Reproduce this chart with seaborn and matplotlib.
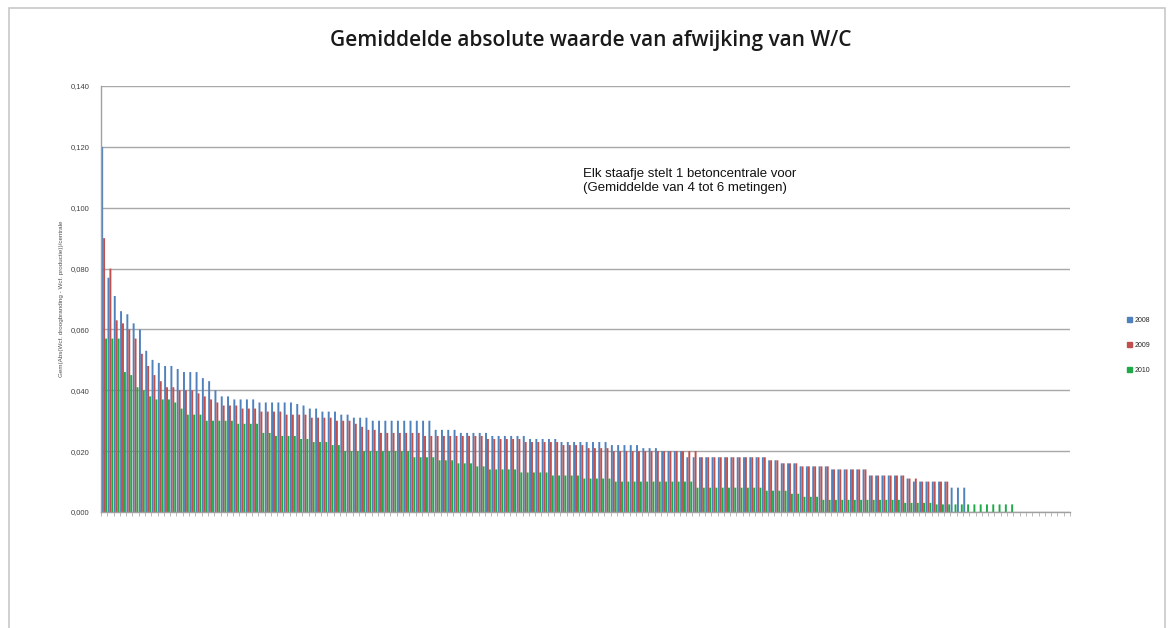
import matplotlib
matplotlib.use("Agg")
import matplotlib.pyplot as plt
import matplotlib.patches as patches
from matplotlib.ticker import FuncFormatter
import seaborn as sns
import numpy as np
import pandas as pd

# values per betoncentrale, sorted high -> low for each year
n_categories = 154
years = ["2008", "2009", "2010"]

wcf_2008 = [0.120, 0.077, 0.071, 0.066, 0.065, 0.062, 0.060, 0.053, 0.050, 0.049,
            0.048, 0.048, 0.047, 0.046, 0.046, 0.046, 0.044, 0.043, 0.040, 0.038,
            0.038, 0.037, 0.037, 0.037, 0.037, 0.036, 0.036, 0.036, 0.036, 0.036,
            0.036,
            0.0355, 0.035, 0.034, 0.034, 0.033, 0.033, 0.033, 0.032, 0.032, 0.031,
            0.031, 0.031, 0.030, 0.030, 0.030, 0.030, 0.030, 0.030, 0.030, 0.030,
            0.030, 0.030, 0.027, 0.027, 0.027,
            0.027, 0.026, 0.026, 0.026, 0.026, 0.026, 0.025, 0.025, 0.025, 0.025,
            0.025, 0.025, 0.024, 0.024, 0.024, 0.024, 0.024, 0.023, 0.023, 0.023,
            0.023, 0.023, 0.023, 0.023, 0.023,
            0.022, 0.022, 0.022, 0.022, 0.022,
            0.021, 0.021, 0.021, 0.020, 0.020, 0.020, 0.020,
            0.018, 0.018, 0.018, 0.018, 0.018, 0.018, 0.018, 0.018, 0.018, 0.018,
            0.018, 0.018, 0.018,
            0.017, 0.017, 0.016, 0.016, 0.016,
            0.015, 0.015, 0.015, 0.015, 0.015,
            0.014, 0.014, 0.014, 0.014, 0.014, 0.014,
            0.012, 0.012, 0.012, 0.012, 0.012, 0.012,
            0.011, 0.010, 0.010, 0.010, 0.010, 0.010, 0.010,
            0.008, 0.008, 0.008]

wcf_2009 = [0.090, 0.080, 0.063, 0.062, 0.060, 0.057, 0.052, 0.048, 0.045, 0.043,
            0.041, 0.041, 0.040, 0.040, 0.040, 0.039, 0.038, 0.037, 0.036, 0.035,
            0.035, 0.035, 0.034, 0.034, 0.034, 0.033, 0.033, 0.033, 0.033, 0.032,
            0.032,
            0.032, 0.032, 0.031, 0.031, 0.031, 0.031, 0.030, 0.030, 0.030, 0.029,
            0.028, 0.027, 0.027, 0.026, 0.026, 0.026, 0.026, 0.026, 0.026, 0.026,
            0.025, 0.025, 0.025, 0.025, 0.025,
            0.025, 0.025, 0.025, 0.025, 0.025, 0.024, 0.024, 0.024, 0.024, 0.024,
            0.024, 0.023, 0.023, 0.023, 0.023, 0.023, 0.023, 0.022, 0.022, 0.022,
            0.022, 0.021, 0.021, 0.021, 0.021,
            0.020, 0.020, 0.020, 0.020, 0.020, 0.020, 0.020, 0.020, 0.020, 0.020,
            0.020, 0.020, 0.020, 0.020,
            0.018, 0.018, 0.018, 0.018, 0.018, 0.018, 0.018, 0.018, 0.018, 0.018,
            0.018,
            0.017, 0.017, 0.016, 0.016, 0.016,
            0.015, 0.015, 0.015, 0.015, 0.015,
            0.014, 0.014, 0.014, 0.014, 0.014, 0.014,
            0.012, 0.012, 0.012, 0.012, 0.012, 0.012,
            0.011, 0.011, 0.010, 0.010, 0.010, 0.010, 0.010]

wcf_2010 = [0.057, 0.057, 0.057, 0.046, 0.045, 0.041, 0.040, 0.038, 0.037, 0.037,
            0.037, 0.036, 0.034, 0.032, 0.032, 0.032, 0.030, 0.030, 0.030, 0.030,
            0.030, 0.029, 0.029, 0.029, 0.029, 0.026, 0.026, 0.025, 0.025, 0.025,
            0.025,
            0.024, 0.024, 0.023, 0.023, 0.023, 0.022, 0.022, 0.020, 0.020, 0.020,
            0.020, 0.020, 0.020, 0.020, 0.020, 0.020, 0.020, 0.020, 0.018, 0.018,
            0.018, 0.018, 0.017, 0.017, 0.017,
            0.016, 0.016, 0.016, 0.015, 0.015, 0.014, 0.014, 0.014, 0.014, 0.014,
            0.013, 0.013, 0.013, 0.013, 0.013, 0.012, 0.012, 0.012, 0.012, 0.012,
            0.011, 0.011, 0.011, 0.011, 0.011,
            0.010, 0.010, 0.010, 0.010, 0.010, 0.010, 0.010, 0.010, 0.010, 0.010,
            0.010, 0.010, 0.010,
            0.008, 0.008, 0.008, 0.008, 0.008, 0.008, 0.008, 0.008, 0.008, 0.008,
            0.008,
            0.007, 0.007, 0.007, 0.007,
            0.006, 0.006,
            0.005, 0.005, 0.005,
            0.004, 0.004, 0.004, 0.004, 0.004, 0.004, 0.004, 0.004, 0.004, 0.004,
            0.004, 0.004, 0.004,
            0.003, 0.003, 0.003, 0.003, 0.003,
            0.0025, 0.0025, 0.0025, 0.0025, 0.0025, 0.0025, 0.0025, 0.0025, 0.0025,
            0.0025, 0.0025, 0.0025, 0.0025]

colors = ["#4F81BD", "#C0504D", "#1FAA4A"]

rows = []
for year, vals in zip(years, [wcf_2008, wcf_2009, wcf_2010]):
    for i, v in enumerate(vals):
        rows.append({"centrale": i, "jaar": year, "wcf": v})
df = pd.DataFrame(rows)

sns.set_style("white")
plt.rcParams["font.family"] = ["Liberation Sans", "DejaVu Sans"]

fig = plt.figure(figsize=(11.74, 6.28), dpi=100)
ax = fig.add_axes([0.086, 0.1847, 0.8254, 0.6783])

sns.barplot(data=df, x="centrale", y="wcf", hue="jaar", order=list(range(n_categories)),
            hue_order=years, palette=colors, width=0.92, saturation=1, linewidth=0,
            dodge=True, legend=False, ax=ax)

# smooth (unsnapped) thin bars, like the blurry original
for p in ax.patches:
    p.set_snap(False)

ax.set_ylim(0, 0.14)
ax.set_xlim(-0.5, n_categories - 0.5)
ax.set_yticks(np.arange(0, 0.141, 0.02))
ax.yaxis.set_major_formatter(FuncFormatter(lambda v, p: f"{v:.3f}".replace(".", ",")))
ax.set_xticks(np.arange(-0.5, n_categories, 1))
ax.set_xticklabels([])
ax.tick_params(axis="x", length=3, color="#B0B0B0", width=0.6, direction="out", bottom=True)
ax.tick_params(axis="y", labelsize=5.5, labelcolor="#404040", length=0, pad=8)
ax.grid(axis="y", color="#A8A8A8", linewidth=1)
ax.set_axisbelow(True)
for s in ["top", "right"]:
    ax.spines[s].set_visible(False)
for s in ["left", "bottom"]:
    ax.spines[s].set_color("#A0A0A0")
    ax.spines[s].set_linewidth(1)
ax.set_xlabel("")
ax.set_ylabel("Gem(Abs(Wcf. droogbranding - Wcf. productie))/centrale", fontsize=4.5,
              color="#505050", labelpad=5)

fig.text(0.503, 0.935, "Gemiddelde absolute waarde van afwijking van W/C",
         ha="center", va="center", fontsize=15, fontweight="semibold", color="#1A1A1A",
         family=["Open Sans", "DejaVu Sans"])

ax.text(0.497, 0.808, "Elk staafje stelt 1 betoncentrale voor\n(Gemiddelde van 4 tot 6 metingen)",
        transform=ax.transAxes, ha="left", va="top", fontsize=9.5, color="#111111",
        linespacing=1.25)

handles = [patches.Patch(color=c, label=y) for c, y in zip(colors, years)]
fig.legend(handles=handles, loc="center left", bbox_to_anchor=(0.955, 0.45), frameon=False,
           fontsize=5, handlelength=0.6, handleheight=0.8, handletextpad=0.4, labelspacing=2.6)

fig.add_artist(patches.Rectangle((9 / 1174, -0.01), (1165 - 9) / 1174, 1 - 8 / 628 + 0.01,
                                 transform=fig.transFigure, fill=False,
                                 edgecolor="#C8C8C8", linewidth=1.2))

fig.savefig("out.png", dpi=100)
